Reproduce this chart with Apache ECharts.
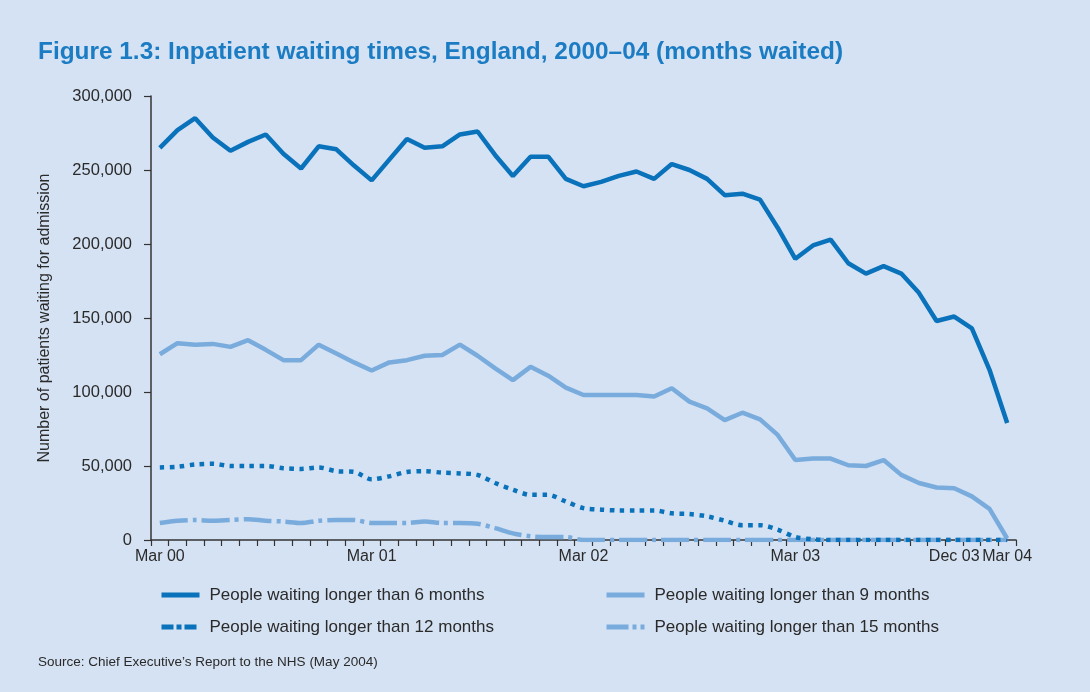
<!DOCTYPE html>
<html>
<head>
<meta charset="utf-8">
<title>Inpatient waiting times</title>
<script src="https://cdn.jsdelivr.net/npm/echarts@6/dist/echarts.min.js"></script>
<style>
  html, body { margin: 0; padding: 0; background: #d5e2f3; }
  #main { width: 1090px; height: 692px; }
</style>
</head>
<body>
<div id="main"></div>
<script>
// months, Mar 00 .. Mar 04
var months = ['Mar 00','Apr 00','May 00','Jun 00','Jul 00','Aug 00','Sep 00','Oct 00','Nov 00','Dec 00','Jan 01','Feb 01',
  'Mar 01','Apr 01','May 01','Jun 01','Jul 01','Aug 01','Sep 01','Oct 01','Nov 01','Dec 01','Jan 02','Feb 02',
  'Mar 02','Apr 02','May 02','Jun 02','Jul 02','Aug 02','Sep 02','Oct 02','Nov 02','Dec 02','Jan 03','Feb 03',
  'Mar 03','Apr 03','May 03','Jun 03','Jul 03','Aug 03','Sep 03','Oct 03','Nov 03','Dec 03','Jan 04','Feb 04','Mar 04'];
// only these months get a label
var tickLabels = ['Mar 00','Mar 01','Mar 02','Mar 03','Dec 03','Mar 04'];

var over6 = [265000,277000,285000,272000,263000,269000,274000,261000,251000,266000,264000,253000,
  243000,257000,271000,265000,266000,274000,276000,260000,246000,259000,259000,244000,
  239000,242000,246000,249000,244000,254000,250000,244000,233000,234000,230000,211000,
  190000,199000,203000,187000,180000,185000,180000,167000,148000,151000,143000,115000,79000];
var over9 = [125500,133000,132000,132500,130500,135000,128500,121500,121500,132000,126000,120000,
  114500,120000,121500,124500,125000,132000,124500,116000,108000,117000,111000,103000,
  98000,98000,98000,98000,97000,102500,93500,89000,81000,86000,81500,71000,
  54000,55000,55000,50500,50000,54000,44000,38500,35500,35000,29500,21000,1000];
var over12 = [49000,49500,51000,51500,50000,50000,50000,48500,48000,49000,46500,46000,
  41000,43000,46000,46500,45500,45000,44000,38500,34000,30500,30500,26000,
  21500,20500,20000,20000,20000,18000,17500,16000,13000,10000,10000,7000,
  2000,500,0,0,0,0,0,0,0,0,0,0,0];
var over15 = [11500,13000,13500,13000,13500,14000,13000,12500,11500,13000,13500,13500,
  11500,11500,11500,12500,11500,11500,11000,8000,4500,2500,2000,2000,
  0,0,0,0,0,0,0,0,0,0,0,0,
  0,0,0,0,0,0,0,0,0,0,0,0,0];

var dark = '#0a72ba';
var light = '#79acdd';
var font = 'Arial, "Liberation Sans", sans-serif';
var txt = '#2a2a2a';

var myChart = echarts.init(document.getElementById('main'));

var legendBase = {
  orient: 'vertical',
  top: 585,
  padding: 0,
  itemWidth: 38,
  itemHeight: 6,
  itemGap: 12,
  itemStyle: { opacity: 0 },
  lineStyle: { width: 5 },
  textStyle: { fontFamily: font, fontSize: 17, color: txt, lineHeight: 20, padding: [0, 0, 0, 5] }
};

var option = {
  backgroundColor: '#d5e2f3',
  animation: false,
  title: [{
    text: 'Figure 1.3: Inpatient waiting times, England, 2000–04 (months waited)',
    left: 38,
    top: 40,
    padding: 0,
    textStyle: { fontFamily: font, fontSize: 24.4, fontWeight: 'bold', color: '#1b7cc3' }
  }, {
    text: 'Source: Chief Executive’s Report to the NHS (May 2004)',
    left: 38,
    top: 655,
    padding: 0,
    textStyle: { fontFamily: font, fontSize: 13.5, fontWeight: 'normal', color: txt }
  }],
  legend: [
    Object.assign({}, legendBase, {
      left: 159,
      data: [
        { name: 'People waiting longer than 6 months' },
        { name: 'People waiting longer than 12 months', lineStyle: { width: 5, type: [12, 3, 5, 3] } }
      ]
    }),
    Object.assign({}, legendBase, {
      left: 604,
      data: [
        { name: 'People waiting longer than 9 months' },
        { name: 'People waiting longer than 15 months', lineStyle: { width: 5, type: [22, 4, 4, 4] } }
      ]
    })
  ],
  grid: { left: 151, right: 74, top: 96, bottom: 152, containLabel: false },
  xAxis: {
    type: 'category',
    data: months,
    boundaryGap: true,
    axisLine: { lineStyle: { color: '#333', width: 1.5 } },
    axisTick: { show: true, interval: 0, alignWithLabel: false, length: 6, lineStyle: { color: '#333', width: 1.2 } },
    axisLabel: {
      interval: function (idx, val) { return tickLabels.indexOf(val) >= 0; },
      margin: 9,
      fontFamily: font,
      fontSize: 16,
      color: txt
    },
    splitLine: { show: false }
  },
  yAxis: {
    type: 'value',
    min: 0,
    max: 300000,
    interval: 50000,
    name: 'Number of patients waiting for admission',
    nameLocation: 'middle',
    nameGap: 98,
    nameTextStyle: { fontFamily: font, fontSize: 16, color: txt },
    axisLine: { show: true, lineStyle: { color: '#333', width: 1.5 } },
    axisTick: { show: true, length: 7, lineStyle: { color: '#333', width: 1.2 } },
    axisLabel: {
      margin: 19,
      fontFamily: font,
      fontSize: 16.5,
      color: txt,
      formatter: function (v) { return v.toLocaleString('en-US'); }
    },
    splitLine: { show: false }
  },
  series: [
    {
      name: 'People waiting longer than 6 months',
      type: 'line',
      data: over6,
      symbol: 'none',
      color: dark,
      lineStyle: { color: dark, width: 4.5 },
      z: 5
    },
    {
      name: 'People waiting longer than 9 months',
      type: 'line',
      data: over9,
      symbol: 'none',
      color: light,
      lineStyle: { color: light, width: 4.5 },
      z: 4
    },
    {
      name: 'People waiting longer than 12 months',
      type: 'line',
      data: over12,
      symbol: 'none',
      smooth: 0.3,
      color: dark,
      lineStyle: { color: dark, width: 4.5, type: [4.5, 5.5] },
      z: 3
    },
    {
      name: 'People waiting longer than 15 months',
      type: 'line',
      data: over15,
      symbol: 'none',
      smooth: 0.3,
      color: light,
      lineStyle: { color: light, width: 4.5, type: [28, 5, 4, 5] },
      z: 2
    }
  ]
};

myChart.setOption(option);
</script>
</body>
</html>
